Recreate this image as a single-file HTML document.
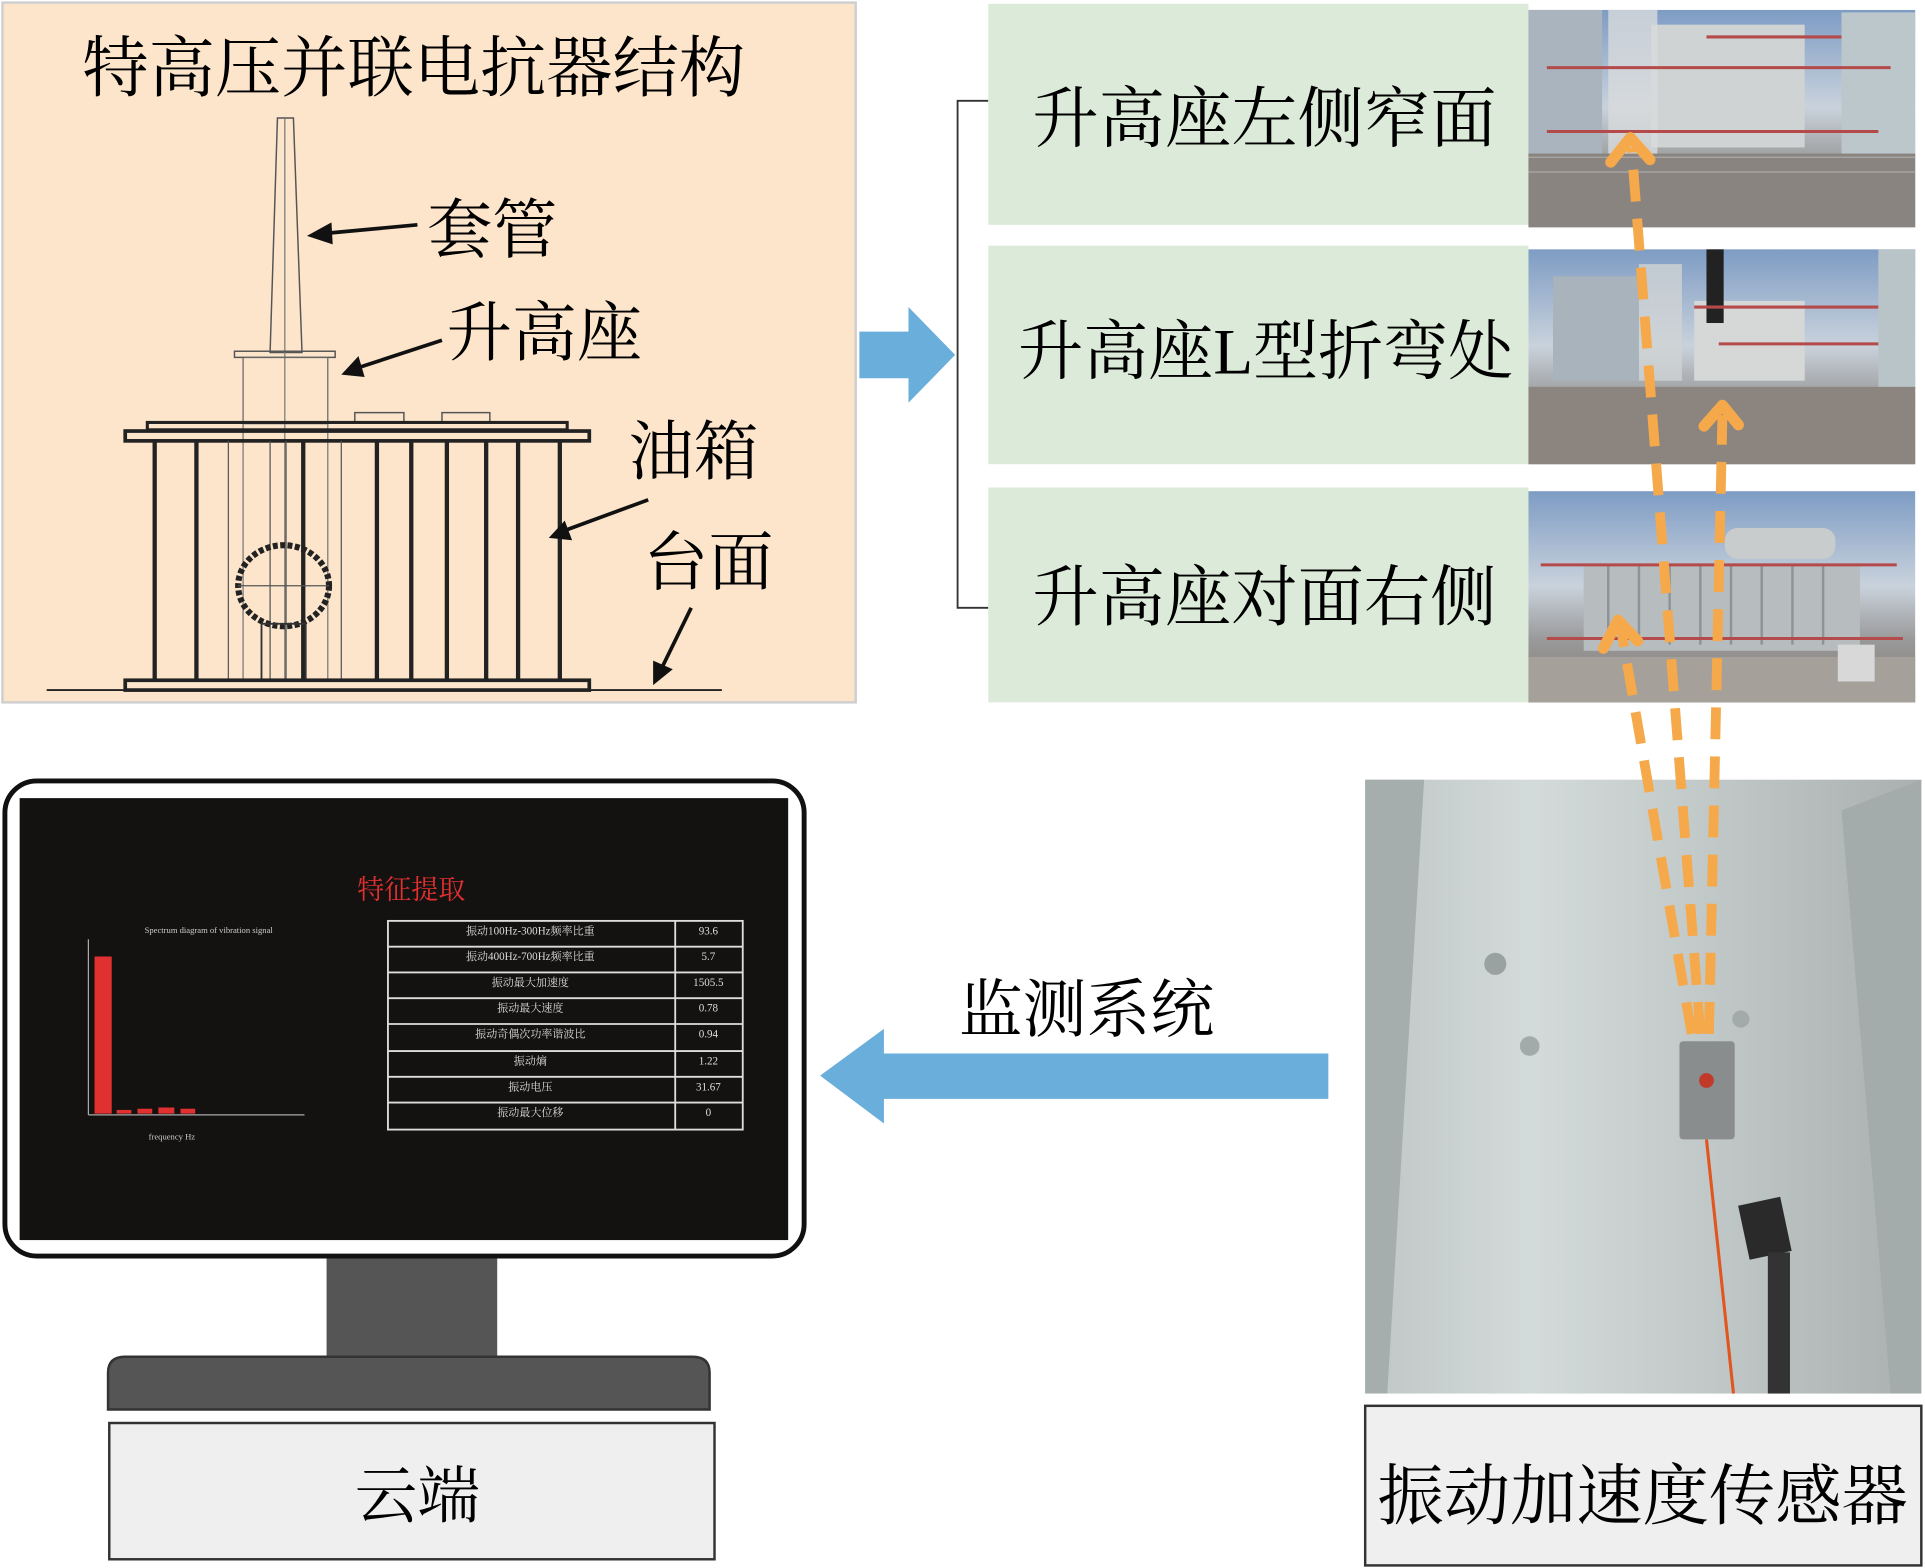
<!DOCTYPE html>
<html><head><meta charset="utf-8"><style>
html,body{margin:0;padding:0;background:#fff;}
svg{display:block;}
text{font-family:"Liberation Serif","Noto Serif CJK SC",serif;}
</style></head><body>
<svg width="1925" height="1568" viewBox="0 0 1568 1277" xmlns="http://www.w3.org/2000/svg">
<defs>
<linearGradient id="sky" x1="0" y1="0" x2="0" y2="1"><stop offset="0" stop-color="#7e9cc4"/><stop offset="0.45" stop-color="#c9d2dc"/><stop offset="0.7" stop-color="#9a9a9a"/><stop offset="1" stop-color="#7d7874"/></linearGradient>
<linearGradient id="steel" x1="0" y1="0" x2="1" y2="0"><stop offset="0" stop-color="#bfc6c6"/><stop offset="0.3" stop-color="#d3dada"/><stop offset="0.6" stop-color="#c2c9c9"/><stop offset="1" stop-color="#aab0b0"/></linearGradient>
</defs>

<!-- Left top panel -->
<rect x="2" y="2" width="695" height="570" fill="#fce5cb" stroke="#cfcfcf" stroke-width="2"/>
<text x="337" y="74" font-size="54" text-anchor="middle">特高压并联电抗器结构</text>
<!-- bushing -->
<polygon points="226,96 239,96 246,287 220,287" fill="none" stroke="#555" stroke-width="1.2"/>
<line x1="232" y1="96" x2="232" y2="555" stroke="#777" stroke-width="1"/>
<rect x="191" y="286" width="82" height="5" fill="none" stroke="#555" stroke-width="1.2"/>
<rect x="198" y="291" width="69" height="54" fill="none" stroke="#666" stroke-width="1"/>
<line x1="198" y1="345" x2="198" y2="555" stroke="#777" stroke-width="1"/>
<line x1="267" y1="345" x2="267" y2="555" stroke="#777" stroke-width="1"/>
<rect x="289" y="336" width="40" height="8" fill="none" stroke="#555" stroke-width="1.2"/>
<rect x="360" y="336" width="39" height="8" fill="none" stroke="#555" stroke-width="1.2"/>
<rect x="120" y="344" width="342" height="6" fill="none" stroke="#222" stroke-width="2.5"/>
<rect x="102" y="351" width="378" height="8" fill="none" stroke="#222" stroke-width="3"/>
<g stroke="#222" stroke-width="3.5">
<line x1="126" y1="359" x2="126" y2="554"/><line x1="160" y1="359" x2="160" y2="554"/><line x1="247" y1="359" x2="247" y2="554"/><line x1="307" y1="359" x2="307" y2="554"/><line x1="335" y1="359" x2="335" y2="554"/><line x1="364" y1="359" x2="364" y2="554"/><line x1="396" y1="359" x2="396" y2="554"/><line x1="422" y1="359" x2="422" y2="554"/><line x1="456" y1="359" x2="456" y2="554"/>
</g>
<g stroke="#555" stroke-width="1"><line x1="186" y1="359" x2="186" y2="554"/><line x1="220" y1="359" x2="220" y2="554"/><line x1="233" y1="359" x2="233" y2="554"/><line x1="278" y1="359" x2="278" y2="554"/></g>
<ellipse cx="231" cy="477" rx="37" ry="33" fill="none" stroke="#222" stroke-width="5" stroke-dasharray="4 2"/>
<line x1="194" y1="477" x2="268" y2="477" stroke="#555" stroke-width="1"/>
<rect x="213" y="508" width="36" height="46" fill="none" stroke="#333" stroke-width="1.5"/>
<rect x="102" y="554" width="378" height="8" fill="none" stroke="#222" stroke-width="3"/>
<line x1="38" y1="562" x2="588" y2="562" stroke="#222" stroke-width="1.5"/>
<!-- labels + arrows -->
<g font-size="53">
<text x="348" y="205">套管</text>
<text x="364" y="289">升高座</text>
<text x="512" y="386">油箱</text>
<text x="524" y="476">台面</text>
</g>
<g stroke="#111" stroke-width="3" fill="#111">
<line x1="340" y1="183" x2="265" y2="190"/><polygon points="250,192 270,181 271,199" stroke="none"/>
<line x1="360" y1="277" x2="290" y2="300"/><polygon points="278,305 292,290 297,307" stroke="none"/>
<line x1="528" y1="407" x2="460" y2="432"/><polygon points="447,438 460,424 466,440" stroke="none"/>
<line x1="563" y1="495" x2="540" y2="542"/><polygon points="532,558 532,538 548,545" stroke="none"/>
</g>

<!-- blue arrow right -->
<polygon points="700,270 740,270 740,250 778,289 740,328 740,308 700,308" fill="#6aaedb"/>
<!-- bracket -->
<path d="M805,82 L780,82 L780,495 L805,495" fill="none" stroke="#333" stroke-width="1.5"/>

<!-- green boxes -->
<g fill="#dcebd9">
<rect x="805" y="3" width="440" height="180"/>
<rect x="805" y="200" width="440" height="178"/>
<rect x="805" y="397" width="440" height="175"/>
</g>
<g font-size="54" text-anchor="middle">
<text x="1030" y="115">升高座左侧窄面</text>
<text x="1031" y="304" font-size="53">升高座L型折弯处</text>
<text x="1030" y="505">升高座对面右侧</text>
</g>

<!-- photos -->
<g>
<rect x="1245" y="8" width="315" height="177" fill="url(#sky)"/>
<rect x="1245" y="8" width="60" height="120" fill="#a9b4bf"/>
<rect x="1500" y="10" width="60" height="120" fill="#bcc7cc"/>
<rect x="1345" y="20" width="125" height="100" fill="#cfd3d3"/>
<rect x="1310" y="8" width="40" height="130" fill="#d8dbdc" opacity="0.8"/>
<g stroke="#b54a4a" stroke-width="2.5"><line x1="1260" y1="55" x2="1540" y2="55"/><line x1="1260" y1="107" x2="1530" y2="107"/><line x1="1390" y1="30" x2="1500" y2="30"/></g>
<rect x="1245" y="125" width="315" height="60" fill="#8a8480"/>
<g stroke="#aaa" stroke-width="1"><line x1="1245" y1="128" x2="1560" y2="128"/><line x1="1245" y1="140" x2="1560" y2="140"/></g>
</g>
<g>
<rect x="1245" y="203" width="315" height="175" fill="url(#sky)"/>
<rect x="1265" y="225" width="70" height="85" fill="#a8b3bb"/>
<rect x="1335" y="215" width="35" height="95" fill="#cfd3d5" opacity="0.8"/>
<rect x="1380" y="245" width="90" height="65" fill="#d6d8d8"/>
<rect x="1390" y="203" width="14" height="60" fill="#222"/>
<rect x="1530" y="203" width="30" height="130" fill="#b9c4c8"/>
<g stroke="#b54a4a" stroke-width="2.5"><line x1="1380" y1="250" x2="1530" y2="250"/><line x1="1400" y1="280" x2="1530" y2="280"/><line x1="1380" y1="318" x2="1520" y2="318"/></g>
<rect x="1245" y="315" width="315" height="63" fill="#8c857f"/>
</g>
<g>
<rect x="1245" y="400" width="315" height="172" fill="url(#sky)"/>
<rect x="1290" y="460" width="225" height="70" fill="#b7bcbf"/>
<g stroke="#8d9396" stroke-width="2"><line x1="1310" y1="460" x2="1310" y2="525"/><line x1="1335" y1="460" x2="1335" y2="525"/><line x1="1360" y1="460" x2="1360" y2="525"/><line x1="1385" y1="460" x2="1385" y2="525"/><line x1="1410" y1="460" x2="1410" y2="525"/><line x1="1435" y1="460" x2="1435" y2="525"/><line x1="1460" y1="460" x2="1460" y2="525"/><line x1="1485" y1="460" x2="1485" y2="525"/></g>
<rect x="1405" y="430" width="90" height="25" rx="10" fill="#c9cccc"/>
<g stroke="#b54a4a" stroke-width="2.5"><line x1="1255" y1="460" x2="1545" y2="460"/><line x1="1260" y1="520" x2="1550" y2="520"/></g>
<rect x="1245" y="535" width="315" height="37" fill="#a6a09a"/>
<rect x="1497" y="525" width="30" height="30" fill="#d8d8d8"/>
</g>

<!-- sensor photo -->
<rect x="1112" y="635" width="453" height="500" fill="url(#steel)"/>
<polygon points="1112,635 1160,635 1130,1135 1112,1135" fill="#a6adad"/>
<polygon points="1500,660 1565,635 1565,1135 1540,1135" fill="#a4abab"/>
<circle cx="1218" cy="785" r="9" fill="#9aa1a1"/><circle cx="1246" cy="852" r="8" fill="#a3aaaa"/><circle cx="1418" cy="830" r="7" fill="#a3aaaa"/>
<rect x="1368" y="848" width="45" height="80" rx="3" fill="#8a8d8e"/>
<circle cx="1390" cy="880" r="6" fill="#c0392b"/>
<line x1="1390" y1="928" x2="1412" y2="1135" stroke="#e0561e" stroke-width="2.5"/>
<rect x="1420" y="978" width="35" height="45" fill="#2a2a2a" transform="rotate(-12 1437 1000)"/>
<rect x="1440" y="1020" width="18" height="115" fill="#333"/>

<!-- orange dashed arrows -->
<g stroke="#f5a94a" stroke-width="8" fill="none" stroke-dasharray="26 14">
<line x1="1385" y1="842" x2="1329" y2="120"/>
<line x1="1392" y1="842" x2="1403" y2="338"/>
<line x1="1378" y1="842" x2="1320" y2="510"/>
</g>
<g stroke="#f5a94a" stroke-width="9" fill="none" stroke-linecap="round" stroke-linejoin="round">
<polyline points="1312,132 1328,112 1344,130"/>
<polyline points="1388,347 1403,330 1416,346"/>
<polyline points="1306,528 1318,505 1334,522"/>
</g>

<!-- sensor label -->
<rect x="1112" y="1145" width="453" height="130" fill="#efefef" stroke="#333" stroke-width="2"/>
<text x="1338" y="1237" font-size="54" text-anchor="middle">振动加速度传感器</text>

<!-- blue arrow left -->
<polygon points="1082,858 720,858 720,838 668,876 720,915 720,895 1082,895" fill="#6aaedb"/>
<text x="885" y="840" font-size="52" text-anchor="middle">监测系统</text>

<!-- monitor -->
<rect x="4" y="636" width="651" height="387" rx="26" fill="#fff" stroke="#111" stroke-width="4"/>
<rect x="16" y="650" width="626" height="360" fill="#141210"/>
<rect x="266" y="1025" width="139" height="80" fill="#555"/>
<path d="M88,1148 L88,1118 Q88,1105 102,1105 L564,1105 Q578,1105 578,1118 L578,1148 Z" fill="#555" stroke="#333" stroke-width="2"/>
<rect x="89" y="1159" width="493" height="111" fill="#efefef" stroke="#333" stroke-width="2"/>
<text x="340" y="1236" font-size="51" text-anchor="middle">云端</text>

<!-- screen content -->
<text x="335" y="732" font-size="22" fill="#e03030" text-anchor="middle">特征提取</text>
<text x="170" y="760" font-size="7" fill="#ccc" text-anchor="middle">Spectrum diagram of vibration signal</text>
<line x1="72" y1="765" x2="72" y2="908" stroke="#aaa" stroke-width="1"/>
<line x1="72" y1="908" x2="248" y2="908" stroke="#aaa" stroke-width="1"/>
<rect x="77" y="779" width="14" height="128" fill="#e03030"/>
<rect x="95" y="904" width="12" height="3" fill="#e03030"/>
<rect x="112" y="903" width="12" height="4" fill="#e03030"/>
<rect x="129" y="902" width="13" height="5" fill="#e03030"/>
<rect x="147" y="903" width="12" height="4" fill="#e03030"/>
<text x="140" y="928" font-size="7" fill="#ccc" text-anchor="middle">frequency Hz</text>
<g fill="none" stroke="#ddd" stroke-width="1.5">
<rect x="316" y="750" width="289" height="170"/>
<line x1="550" y1="750" x2="550" y2="920"/>
<line x1="316" y1="771" x2="605" y2="771"/><line x1="316" y1="792" x2="605" y2="792"/><line x1="316" y1="813" x2="605" y2="813"/><line x1="316" y1="834" x2="605" y2="834"/><line x1="316" y1="856" x2="605" y2="856"/><line x1="316" y1="877" x2="605" y2="877"/><line x1="316" y1="898" x2="605" y2="898"/>
</g>
<g font-size="9" fill="#ddd" text-anchor="middle">
<text x="432" y="761">振动100Hz-300Hz频率比重</text><text x="577" y="761">93.6</text>
<text x="432" y="782">振动400Hz-700Hz频率比重</text><text x="577" y="782">5.7</text>
<text x="432" y="803">振动最大加速度</text><text x="577" y="803">1505.5</text>
<text x="432" y="824">振动最大速度</text><text x="577" y="824">0.78</text>
<text x="432" y="845">振动奇偶次功率谐波比</text><text x="577" y="845">0.94</text>
<text x="432" y="867">振动熵</text><text x="577" y="867">1.22</text>
<text x="432" y="888">振动电压</text><text x="577" y="888">31.67</text>
<text x="432" y="909">振动最大位移</text><text x="577" y="909">0</text>
</g>
</svg>
</body></html>
